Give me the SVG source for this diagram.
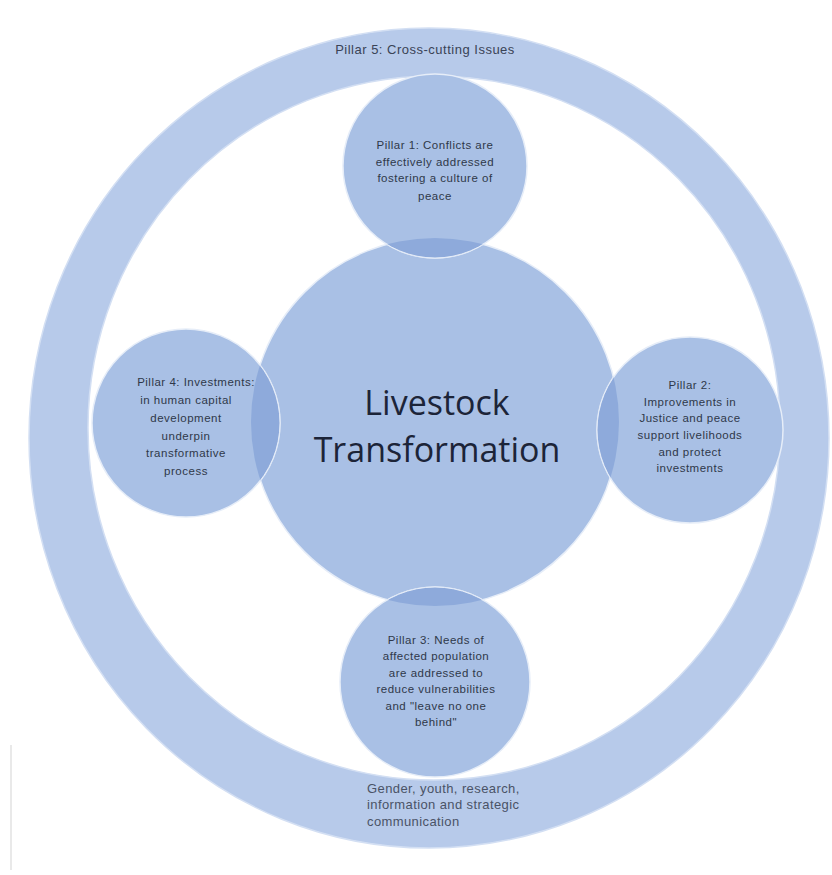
<svg xmlns="http://www.w3.org/2000/svg" width="832" height="875" viewBox="0 0 832 875">
<style>
.ring{fill:#b7caea;fill-rule:evenodd;stroke:#d3dff3;stroke-width:1.5}
.c{fill:#a9c0e5;stroke:#e6edf8;stroke-width:1.5}
.ov{fill:#8eaadb;stroke:#e6edf8;stroke-width:1}
.t{font-family:"Liberation Sans",Arial,sans-serif;font-size:11.5px;letter-spacing:0.5px;fill:#2f3849;text-anchor:middle}
.t5{font-family:"Liberation Sans",Arial,sans-serif;font-size:13px;letter-spacing:0.5px;fill:#3a4356;text-anchor:middle}
.tl{font-family:"Liberation Sans",Arial,sans-serif;font-size:13px;letter-spacing:0.4px;fill:#4a5366}
.big{font-family:"Open Sans","Liberation Sans",sans-serif;font-size:34px;fill:#1c2438;text-anchor:middle}
</style>
<defs>
<clipPath id="cc"><circle cx="435" cy="422" r="184"/></clipPath>
</defs>
<rect width="832" height="875" fill="#ffffff"/>
<line x1="11" y1="745" x2="11" y2="870" stroke="#e2e2e2" stroke-width="1.5"/>
<g id="pillar5">
<path class="ring" d="M29,438 A400,410 0 1,0 829,438 A400,410 0 1,0 29,438 Z M88,428 A346,352 0 1,1 780,428 A346,352 0 1,1 88,428 Z"/>
<text class="t5" x="425" y="54">Pillar 5: Cross-cutting Issues</text>
<text class="tl" x="367" y="793">Gender, youth, research,</text>
<text class="tl" x="367" y="809">information and strategic</text>
<text class="tl" x="367" y="826">communication</text>
</g>
<g id="center">
<circle class="c" cx="435" cy="422" r="184"/>
</g>
<g id="pillar1">
<circle class="c" cx="435" cy="166" r="92"/>
<circle class="ov" cx="435" cy="166" r="92" clip-path="url(#cc)"/>
<text class="t" x="435" y="149">Pillar 1: Conflicts are</text>
<text class="t" x="435" y="166">effectively addressed</text>
<text class="t" x="435" y="182">fostering a culture of</text>
<text class="t" x="435" y="200">peace</text>
</g>
<g id="pillar4">
<circle class="c" cx="186" cy="423" r="94"/>
<circle class="ov" cx="186" cy="423" r="94" clip-path="url(#cc)"/>
<text class="t" x="196" y="386">Pillar 4: Investments:</text>
<text class="t" x="186" y="404">in human capital</text>
<text class="t" x="186" y="422">development</text>
<text class="t" x="186" y="440">underpin</text>
<text class="t" x="186" y="457">transformative</text>
<text class="t" x="186" y="475">process</text>
</g>
<g id="pillar2">
<circle class="c" cx="690" cy="430" r="93"/>
<circle class="ov" cx="690" cy="430" r="93" clip-path="url(#cc)"/>
<text class="t" x="690" y="389">Pillar 2:</text>
<text class="t" x="690" y="406">Improvements in</text>
<text class="t" x="690" y="422">Justice and peace</text>
<text class="t" x="690" y="439">support livelihoods</text>
<text class="t" x="690" y="456">and protect</text>
<text class="t" x="690" y="472">investments</text>
</g>
<g id="pillar3">
<circle class="c" cx="435" cy="682" r="95"/>
<circle class="ov" cx="435" cy="682" r="95" clip-path="url(#cc)"/>
<text class="t" x="436" y="644">Pillar 3: Needs of</text>
<text class="t" x="436" y="660">affected population</text>
<text class="t" x="436" y="677">are addressed to</text>
<text class="t" x="436" y="693">reduce vulnerabilities</text>
<text class="t" x="436" y="710">and "leave no one</text>
<text class="t" x="436" y="726">behind"</text>
</g>
<g id="center-label">
<text class="big" x="437" y="415">Livestock</text>
<text class="big" x="437" y="462">Transformation</text>
</g>
<g id="connectors"></g>
</svg>
